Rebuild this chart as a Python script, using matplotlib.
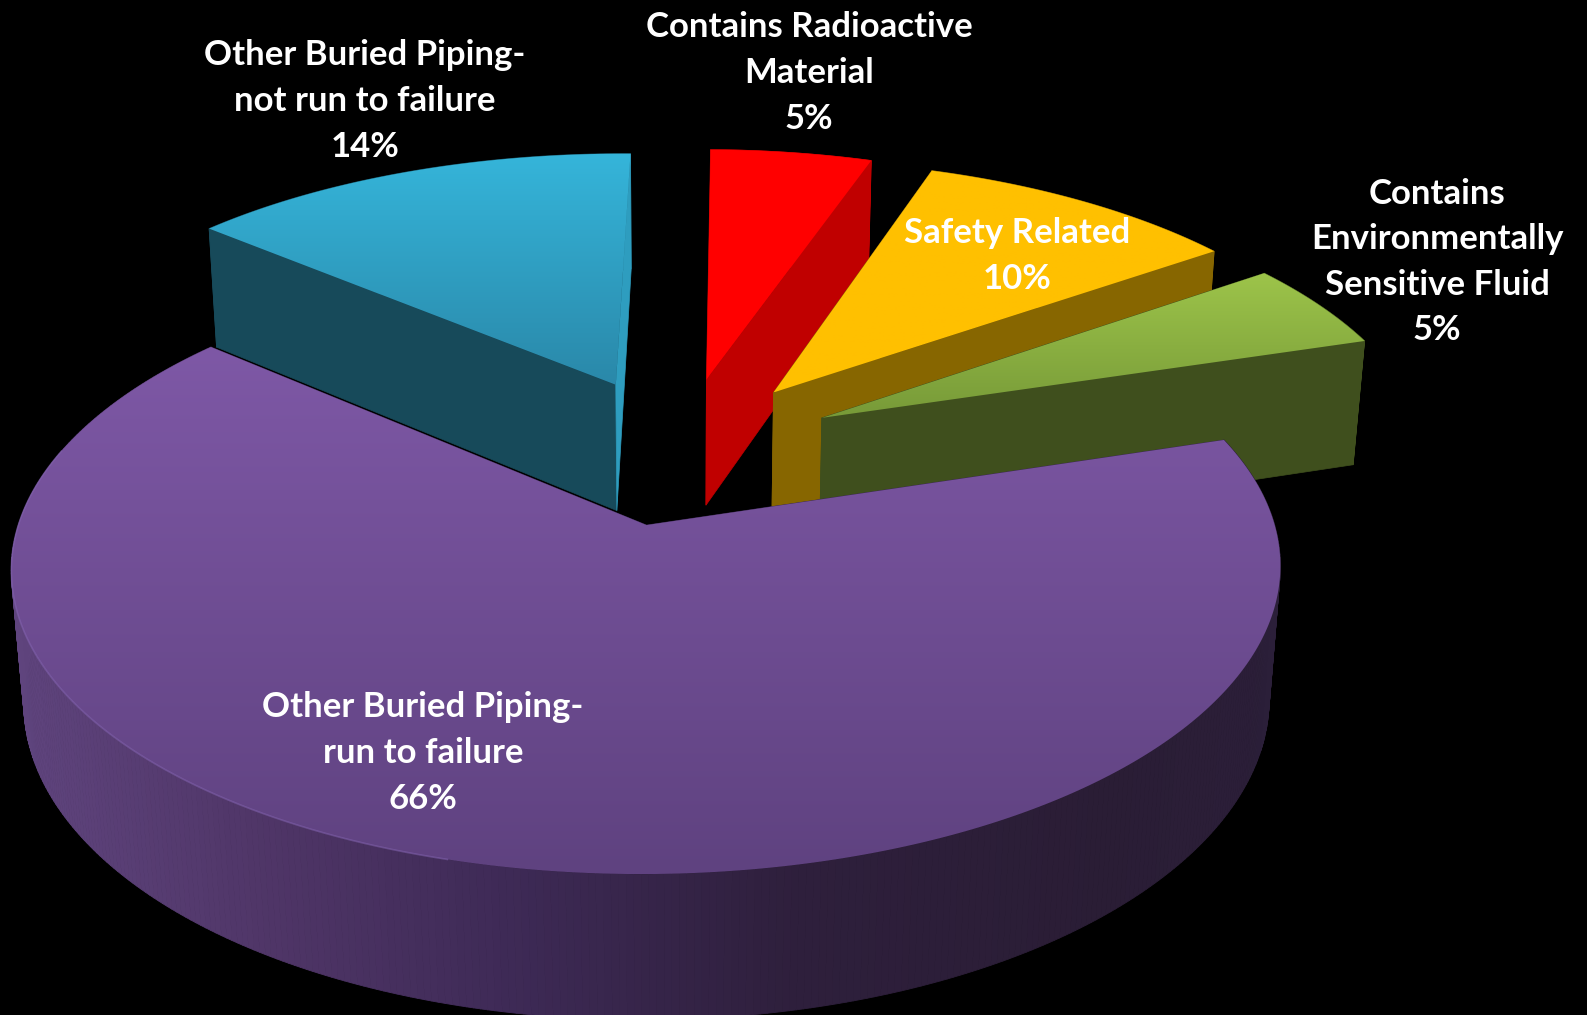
import numpy as np
import matplotlib
matplotlib.use('Agg')
import matplotlib.pyplot as plt
from matplotlib.collections import PolyCollection
from matplotlib.colors import LinearSegmentedColormap
from matplotlib.patches import Polygon

# clockwise from 12 o'clock
categories = ['Contains Radioactive\nMaterial', 'Safety Related',
              'Contains\nEnvironmentally\nSensitive Fluid',
              'Other Buried Piping-\nrun to failure',
              'Other Buried Piping-\nnot run to failure']
values = [5, 10, 5, 66, 14]

# perspective of the tilted pie, in pixels
CX, CY = 680, 450
A, B, D = 606, 279, 131
K, M = 0.136, 0.018
EXPLODE = 0.265
START = np.radians(0.8)
WIDTH = 1587

top_colors = [('#FF0000', '#FF0000'), ('#FFC000', '#FFC000'), ('#9DC44A', '#779A38'),
              ('#7E58A6', '#5F4280'), ('#35B5DA', '#2A88A9')]
wall_colors = ['#C00000', '#876600', '#3F4F1D', '#3A2850', '#174A5A']
end_wall_colors = ['#C00000', '#876600', '#3F4F1D', '#3A2850', '#2E9DBF']
rim_stops = [(0.0, '#60457F'), (0.16, '#503668'), (0.32, '#3E2A56'),
             (0.5, '#2E1F3C'), (0.7, '#2A1D35'), (1.0, '#2E2240')]
label_pos = [(809, 73), (1017, 256), (1437, 262), (423, 753), (365, 101)]

rim_cmap = LinearSegmentedColormap.from_list('rim', rim_stops)


def project(x, y, z=0.0):
    w = 1 + K * y - M * z
    return CX + A * x / w, CY - (B * y + D * z) / w


def outline(x, y, z=0.0):
    px, py = project(np.asarray(x), np.asarray(y), z)
    return np.column_stack([px, py])


def gradient_fill(ax, pts, c0, c1, zorder=1):
    patch = Polygon(pts, closed=True, facecolor='none', edgecolor='none', zorder=zorder)
    ax.add_patch(patch)
    cmap = LinearSegmentedColormap.from_list('g', [c0, c1])
    g = np.linspace(0, 1, 256)[:, None]
    x0, x1 = pts[:, 0].min(), pts[:, 0].max()
    y0, y1 = pts[:, 1].min(), pts[:, 1].max()
    im = ax.imshow(g, cmap=cmap, extent=(x0, x1, y1, y0), aspect='auto', zorder=zorder,
                   interpolation='bilinear')
    im.set_clip_path(patch)


def draw_rim(ax, rx, ry, i, zorder):
    upper, lower = outline(rx, ry, 0), outline(rx, ry, -1)
    quads = [np.array([upper[j], upper[j + 1], lower[j + 1], lower[j]])
             for j in range(len(upper) - 1)]
    if i == 3:
        cols = [rim_cmap(q[:, 0].mean() / WIDTH) for q in quads]
    else:
        cols = [wall_colors[i]] * len(quads)
    ax.add_collection(PolyCollection(quads, facecolors=cols, edgecolors=cols, linewidths=0.6,
                                     zorder=zorder))


fig = plt.figure(figsize=(15.87, 10.15), dpi=100, facecolor='black')
ax = fig.add_axes([0, 0, 1, 1])
ax.set_facecolor('black')

edges = START + np.concatenate([[0], np.cumsum(values)]) / np.sum(values) * 2 * np.pi
# back slices first, the big front one last
order = [4, 0, 1, 2, 3]
z = 1
for i in order:
    t0, t1 = edges[i], edges[i + 1]
    mid = (t0 + t1) / 2
    ox, oy = EXPLODE * np.sin(mid), EXPLODE * np.cos(mid)
    t = np.linspace(t0, t1, 400)
    rx, ry = ox + np.sin(t), oy + np.cos(t)

    # outer rim
    draw_rim(ax, rx, ry, i, z)
    z += 1
    # cut faces
    for end, col in ((0, wall_colors[i]), (-1, end_wall_colors[i])):
        face = np.vstack([outline([ox, rx[end]], [oy, ry[end]], 0),
                          outline([rx[end], ox], [ry[end], oy], -1)])
        ax.add_patch(Polygon(face, closed=True, facecolor=col, edgecolor=col, lw=0.5, zorder=z))
        z += 1
    # top
    top = outline(np.r_[ox, rx], np.r_[oy, ry], 0)
    gradient_fill(ax, top, top_colors[i][0], top_colors[i][1], zorder=z)
    z += 1

    if i == 3:
        # light edge on the front left of the big slice
        front = (t > np.radians(195)) & (t < np.radians(285))
        edge = outline(rx[front], ry[front], 0)
        ax.plot(edge[:, 0], edge[:, 1], color='#8767B5', lw=1.2, alpha=0.5, zorder=z)
        z += 1

for cat, val, (lx, ly) in zip(categories, values, label_pos):
    ax.text(lx, ly, f'{cat}\n{val}%', color='white', fontsize=25, fontweight='bold',
            family=['Lato', 'DejaVu Sans'], ha='center', va='center', ma='center',
            linespacing=1.52, zorder=z)

ax.set_xlim(0, 1587)
ax.set_ylim(1015, 0)
ax.axis('off')
fig.savefig('out.png', dpi=100, facecolor='black')
